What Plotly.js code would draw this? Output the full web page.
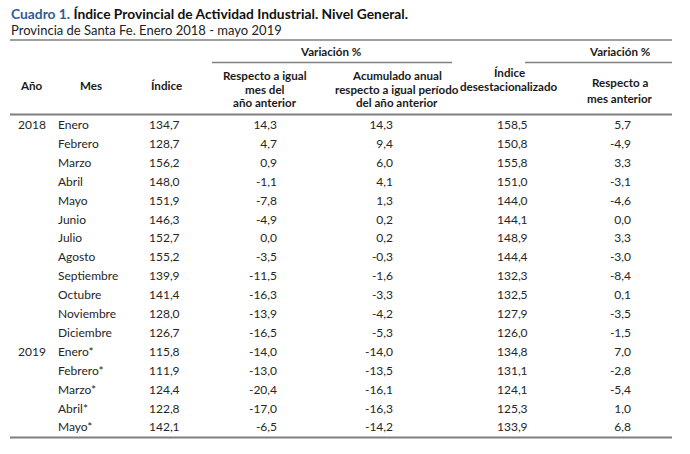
<!DOCTYPE html>
<html>
<head>
<meta charset="utf-8">
<script src="https://cdn.plot.ly/plotly-3.0.1.min.js"></script>
<style>html,body{margin:0;padding:0;background:#fff;}#chart{width:690px;height:454px;}</style>
</head>
<body>
<div id="chart"></div>
<script>
// ---- data ----
const years = ["2018","","","","","","","","","","","","2019","","","",""];
const months = ["Enero","Febrero","Marzo","Abril","Mayo","Junio","Julio","Agosto","Septiembre","Octubre","Noviembre","Diciembre","Enero*","Febrero*","Marzo*","Abril*","Mayo*"];
const indice = ["134,7","128,7","156,2","148,0","151,9","146,3","152,7","155,2","139,9","141,4","128,0","126,7","115,8","111,9","124,4","122,8","142,1"];
const varInteranual = ["14,3","4,7","0,9","-1,1","-7,8","-4,9","0,0","-3,5","-11,5","-16,3","-13,9","-16,5","-14,0","-13,0","-20,4","-17,0","-6,5"];
const varAcumulada = ["14,3","9,4","6,0","4,1","1,3","0,2","0,2","-0,3","-1,6","-3,3","-4,2","-5,3","-14,0","-13,5","-16,1","-16,3","-14,2"];
const indiceDesest = ["158,5","150,8","155,8","151,0","144,0","144,1","148,9","144,4","132,3","132,5","127,9","126,0","134,8","131,1","124,1","125,3","133,9"];
const varMensual = ["5,7","-4,9","3,3","-3,1","-4,6","0,0","3,3","-3,0","-8,4","0,1","-3,5","-1,5","7,0","-2,8","-5,4","1,0","6,8"];

// ---- layout constants ----
const W = 690, H = 454;
const FONT = "Lato, 'Noto Sans', sans-serif";
const BODY = {family: FONT, size: 12, color: "#262626"};
const HEAD = {family: FONT, size: 11.6, color: "#1a1a1a"};
const ROW0 = 126, ROWH = 18.9;
const rowY = months.map((_, i) => ROW0 + i * ROWH);

function col(values, x, pos) {
  return {
    type: "scatter", mode: "text", x: values.map(() => x), y: rowY,
    text: values, textposition: pos, textfont: BODY,
    hoverinfo: "skip", showlegend: false, cliponaxis: false
  };
}

const traces = [
  col(years, 18, "middle right"),
  col(months, 58, "middle right"),
  col(indice, 149, "middle right"),
  col(varInteranual, 277, "middle left"),
  col(varAcumulada, 393, "middle left"),
  col(indiceDesest, 497, "middle right"),
  col(varMensual, 631, "middle left")
];

function ann(text, x, y, xanchor, font) {
  return {text: text, x: x, y: y, xref: "x", yref: "y", xanchor: xanchor, yanchor: "middle",
    showarrow: false, font: font, align: "center"};
}
const HB = t => "<b>" + t + "</b>";

const annotations = [
  ann('<b><span style="color:#2E5C9A">Cuadro 1.</span> Índice Provincial de Actividad Industrial. Nivel General.</b>', 9, 13, "left",
      {family: FONT, size: 13.8, color: "#111"}),
  ann('Provincia de Santa Fe. Enero 2018 - mayo 2019', 9, 30, "left", {family: FONT, size: 13, color: "#222"}),
  ann(HB("Variación %"), 331, 51, "center", HEAD),
  ann(HB("Variación %"), 620, 51, "center", HEAD),
  ann(HB("Año"), 18, 85, "left", HEAD),
  ann(HB("Mes"), 78, 85, "left", HEAD),
  ann(HB("Índice"), 149, 85, "left", HEAD),
  ann(HB("Respecto a igual"), 265, 75, "center", HEAD),
  ann(HB("mes del"), 265, 89, "center", HEAD),
  ann(HB("año anterior"), 265, 102.5, "center", HEAD),
  ann(HB("Acumulado anual"), 397, 75, "center", HEAD),
  ann(HB("respecto a igual período"), 397, 89, "center", HEAD),
  ann(HB("del año anterior"), 397, 102.5, "center", HEAD),
  ann(HB("Índice"), 509, 72, "center", HEAD),
  ann(HB("desestacionalizado"), 509, 86, "center", HEAD),
  ann(HB("Respecto a"), 620, 82, "center", HEAD),
  ann(HB("mes anterior"), 620, 98, "center", HEAD)
];

function hline(x0, x1, y, w) {
  return {type: "line", xref: "x", yref: "y", x0: x0, x1: x1, y0: y, y1: y, line: {color: "#7f7f7f", width: w}, layer: "above"};
}
const shapes = [
  hline(10, 672, 40, 1.3),
  hline(212, 452, 62.5, 1.3),
  hline(525, 672, 62.5, 1.3),
  hline(10, 672, 114.5, 2),
  hline(10, 672, 437.5, 2)
];

const layout = {
  width: W, height: H,
  margin: {l: 0, r: 0, t: 0, b: 0},
  paper_bgcolor: "#fff", plot_bgcolor: "#fff",
  xaxis: {range: [0, W], visible: false, fixedrange: true},
  yaxis: {range: [H, 0], visible: false, fixedrange: true},
  annotations: annotations,
  shapes: shapes,
  showlegend: false
};

Plotly.newPlot("chart", traces, layout, {staticPlot: true, displayModeBar: false});
</script>
</body>
</html>
